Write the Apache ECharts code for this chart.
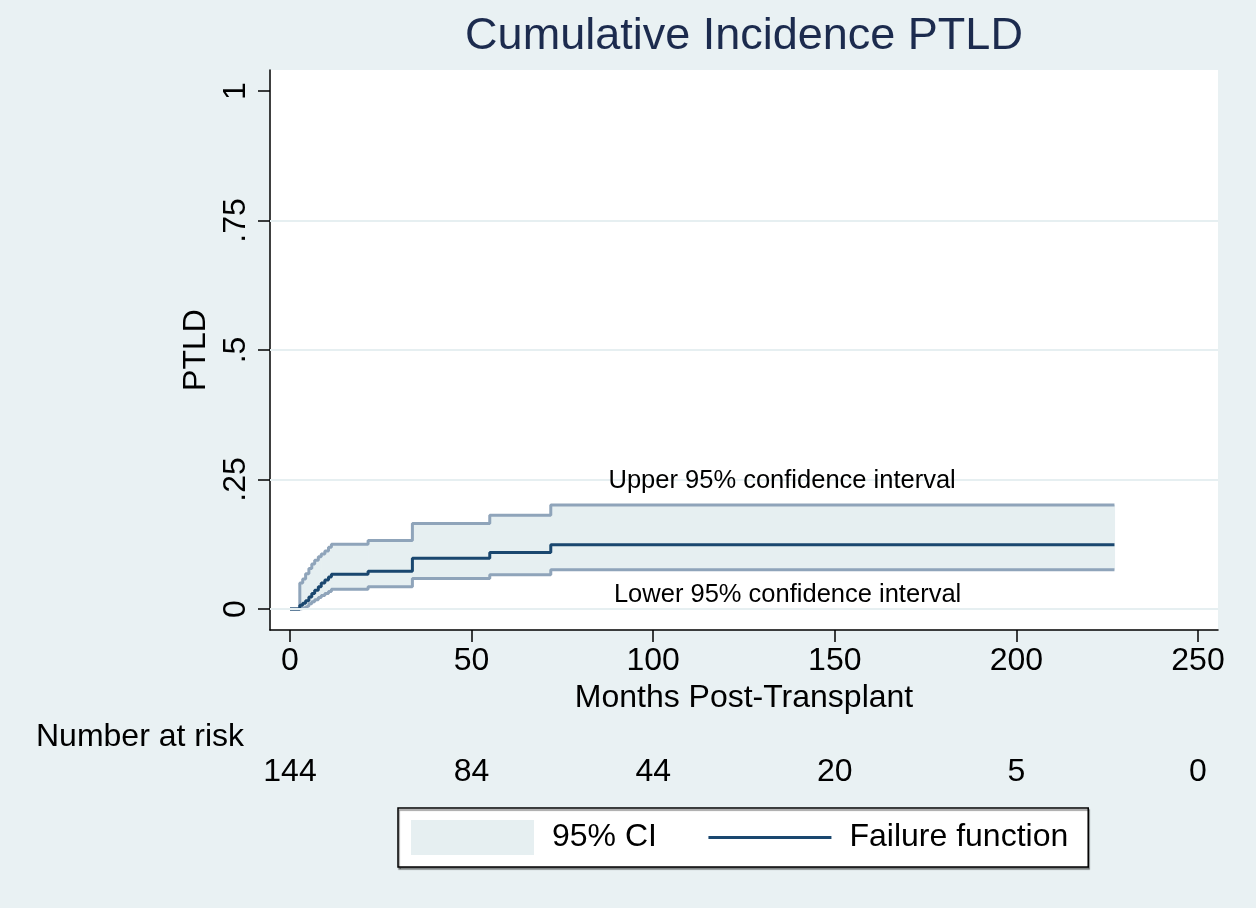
<!DOCTYPE html>
<html>
<head>
<meta charset="utf-8">
<script src="https://cdn.jsdelivr.net/npm/echarts@6/dist/echarts.min.js"></script>
<style>
html,body{margin:0;padding:0;background:#e9f1f3;}
#c{width:1256px;height:908px;}
</style>
</head>
<body>
<div id="c"></div>
<script>
// ---- data ----
const times    = [0, 2.7, 3.5, 4.3, 5.2, 6.0, 6.8, 7.8, 8.6, 9.6, 10.6, 11.4, 21.5, 33.7, 55.0, 71.8, 227];
const failure  = [0, 0.007, 0.011, 0.016, 0.023, 0.030, 0.036, 0.043, 0.050, 0.056, 0.062, 0.067, 0.073, 0.098, 0.109, 0.124, 0.124];
const lowerCI  = [0, 0.001, 0.003, 0.006, 0.010, 0.014, 0.018, 0.022, 0.026, 0.030, 0.034, 0.038, 0.043, 0.059, 0.066, 0.076, 0.076];
const upperCI  = [0, 0.050, 0.058, 0.068, 0.078, 0.087, 0.094, 0.101, 0.106, 0.112, 0.119, 0.125, 0.132, 0.165, 0.181, 0.201, 0.201];
const xTicks = [0, 50, 100, 150, 200, 250];
const xTickLabels = ['0', '50', '100', '150', '200', '250'];
const yTicks = [0, 0.25, 0.5, 0.75, 1];
const yTickLabels = ['0', '.25', '.5', '.75', '1'];
const gridLineValues = [0, 0.25, 0.5, 0.75];
const riskTimes = [0, 50, 100, 150, 200, 250];
const riskCounts = ['144', '84', '44', '20', '5', '0'];
const annotations = [
  {text: 'Upper 95% confidence interval', t: 135.5, v: 0.247},
  {text: 'Lower 95% confidence interval', t: 137, v: 0.028}
];

// ---- styling ----
const FONT = "'Liberation Sans', Arial, Helvetica, sans-serif";
const BG = '#e9f1f3';
const BAND = '#e6eff1';
const CI_LINE = '#8fa4ba';
const EST = '#1a476f';
const GRID_LINE = '#e6eff1';

// band segments: [t_start, t_end, lower, upper]
const bandData  = times.slice(0, -1).map((t, i) => [t, times[i + 1], lowerCI[i], upperCI[i]]);
const lowerData = times.map((t, i) => [t, lowerCI[i]]);
const upperData = times.map((t, i) => [t, upperCI[i]]);
const estData   = times.map((t, i) => [t, failure[i]]);

function pick(values, labels, v) {
  const i = values.findIndex(x => Math.abs(x - v) < 1e-9);
  return i >= 0 ? labels[i] : '';
}

const chart = echarts.init(document.getElementById('c'), null, {renderer: 'canvas'});
chart.setOption({
  backgroundColor: BG,
  animation: false,
  textStyle: {fontFamily: FONT},
  graphic: [
    {type: 'text', x: 744, y: 37, silent: true,
     style: {text: 'Cumulative Incidence PTLD', fill: '#1c2b4e', font: "45px " + FONT,
             textAlign: 'center', textVerticalAlign: 'middle'}},
    {type: 'text', x: 36, y: 737, silent: true,
     style: {text: 'Number at risk', fill: '#000', font: "32px " + FONT,
             textAlign: 'left', textVerticalAlign: 'middle'}}
  ],
  grid: [
    {left: 270, right: 38, top: 70, bottom: 278, show: true, backgroundColor: '#ffffff', borderWidth: 0, containLabel: false},
    {left: 270, right: 38, top: 745, height: 1, show: false, containLabel: false}
  ],
  xAxis: [
    {gridIndex: 0, type: 'value', min: -5.507, max: 255.507,
     axisLine: {show: true, onZero: false, lineStyle: {color: '#000', width: 1.5}},
     axisTick: {show: true, length: 12, customValues: xTicks, lineStyle: {color: '#000', width: 1.5}},
     axisLabel: {customValues: xTicks, margin: 15, fontSize: 32, color: '#000', fontFamily: FONT,
                 formatter: v => pick(xTicks, xTickLabels, v)},
     splitLine: {show: false},
     name: 'Months Post-Transplant', nameLocation: 'middle', nameGap: 51,
     nameTextStyle: {fontSize: 32, color: '#000', fontFamily: FONT}},
    {gridIndex: 1, type: 'value', min: -5.507, max: 255.507,
     axisLine: {show: false, onZero: false}, axisTick: {show: false},
     axisLabel: {customValues: riskTimes, margin: 10, fontSize: 32, color: '#000', fontFamily: FONT,
                 formatter: v => pick(riskTimes, riskCounts, v)},
     splitLine: {show: false}}
  ],
  yAxis: [
    {gridIndex: 0, type: 'value', min: -0.04054, max: 1.04054,
     axisLine: {show: true, onZero: false, lineStyle: {color: '#000', width: 1.5}},
     axisTick: {show: true, length: 12, customValues: yTicks, lineStyle: {color: '#000', width: 1.5}},
     axisLabel: {customValues: yTicks, rotate: 90, margin: 18, fontSize: 32, color: '#000', fontFamily: FONT,
                 formatter: v => pick(yTicks, yTickLabels, v)},
     splitLine: {show: false},
     name: 'PTLD', nameLocation: 'middle', nameGap: 58, nameRotate: 90,
     nameTextStyle: {fontSize: 32, color: '#000', fontFamily: FONT}},
    {gridIndex: 1, type: 'value', show: false, min: 0, max: 1}
  ],
  legend: {
    left: 398, top: 808,
    orient: 'horizontal',
    data: [
      {name: '95% CI', icon: 'rect', itemStyle: {color: BAND, borderWidth: 0}},
      {name: 'Failure function', itemStyle: {opacity: 0}, lineStyle: {color: EST, width: 3}}
    ],
    itemWidth: 123, itemHeight: 35, itemGap: 50,
    padding: [12, 20, 12, 13],
    backgroundColor: '#ffffff', borderColor: '#000', borderWidth: 1.5, borderRadius: 0,
    shadowColor: 'rgba(0,0,0,0.45)', shadowOffsetX: 1, shadowOffsetY: 2, shadowBlur: 1,
    textStyle: {fontSize: 32, color: '#000', fontFamily: FONT, padding: [0, 0, 0, 13]},
    selectedMode: false
  },
  series: [
    {
      name: '95% CI', type: 'custom', xAxisIndex: 0, yAxisIndex: 0,
      data: bandData, z: 2, silent: true,
      itemStyle: {color: BAND},
      encode: {x: [0, 1], y: [2, 3]},
      renderItem: function (params, api) {
        const p1 = api.coord([api.value(0), api.value(3)]);
        const p2 = api.coord([api.value(1), api.value(2)]);
        return {
          type: 'rect',
          shape: {x: p1[0], y: p1[1], width: p2[0] - p1[0] + 0.6, height: p2[1] - p1[1]},
          style: {fill: BAND}
        };
      },
      markLine: {
        silent: true, symbol: 'none', label: {show: false},
        lineStyle: {color: GRID_LINE, width: 2, type: 'solid'},
        data: gridLineValues.map(v => ({yAxis: v}))
      }
    },
    {
      name: 'lower', type: 'line', xAxisIndex: 0, yAxisIndex: 0,
      data: lowerData, step: 'end', symbol: 'none', z: 3,
      lineStyle: {color: CI_LINE, width: 3}, itemStyle: {color: CI_LINE}
    },
    {
      name: 'upper', type: 'line', xAxisIndex: 0, yAxisIndex: 0,
      data: upperData, step: 'end', symbol: 'none', z: 3,
      lineStyle: {color: CI_LINE, width: 3}, itemStyle: {color: CI_LINE}
    },
    {
      name: 'Failure function', type: 'line', xAxisIndex: 0, yAxisIndex: 0,
      data: estData, step: 'end', symbol: 'none', z: 4,
      lineStyle: {color: EST, width: 3}, itemStyle: {color: EST},
      markPoint: {
        symbol: 'rect', symbolSize: 1, silent: true,
        itemStyle: {color: 'rgba(0,0,0,0)'},
        label: {show: true, position: 'inside', fontSize: 25.5, color: '#000', fontFamily: FONT,
                formatter: p => p.name},
        data: annotations.map(a => ({name: a.text, coord: [a.t, a.v]}))
      }
    }
  ]
});
</script>
</body>
</html>
